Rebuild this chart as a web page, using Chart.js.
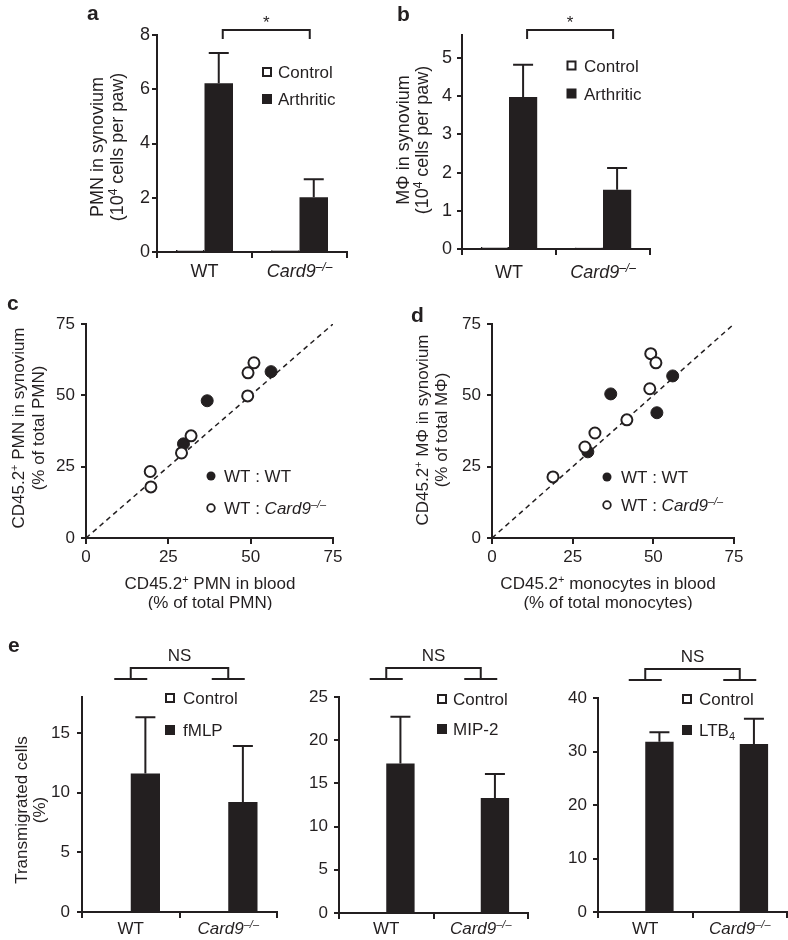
<!DOCTYPE html>
<html>
<head>
<meta charset="utf-8">
<title>Card9 - PMN and macrophage recruitment</title>
<script src="https://cdn.jsdelivr.net/npm/chart.js"></script>
<style>
  html, body { margin: 0; padding: 0; background: #fff; }
  #fig { position: relative; width: 788px; height: 940px; overflow: hidden; background: #fff; }
  #fig canvas { position: absolute; }
</style>
</head>
<body>
<div id="fig"></div>
<script>
  // ---- data ----
  const groups = ['WT', 'Card9'];

  // a: PMN in synovium (10^4 cells per paw)
  const pmnControl = [0.07, 0.06];
  const pmnArthritic = [6.22, 2.02];
  const pmnArthriticErr = [1.12, 0.66];
  const pmnTicks = [0, 2, 4, 6, 8];

  // b: macrophages in synovium (10^4 cells per paw)
  const mphControl = [0.05, 0.04];
  const mphArthritic = [3.98, 1.55];
  const mphArthriticErr = [0.84, 0.57];
  const mphTicks = [0, 1, 2, 3, 4, 5];

  // c: CD45.2+ PMN, blood (x) vs synovium (y)
  const pmnWtX = [36.8, 56.2, 29.6];
  const pmnWtY = [48.1, 58.3, 33.0];
  const pmnCard9X = [19.5, 19.7, 29.0, 31.9, 49.1, 49.2, 51.0];
  const pmnCard9Y = [23.3, 17.9, 29.8, 35.8, 49.8, 57.9, 61.4];

  // d: CD45.2+ monocytes in blood (x) vs macrophages in synovium (y)
  const monoWtX = [36.8, 56.0, 51.1, 29.7];
  const monoWtY = [50.5, 56.8, 43.9, 30.2];
  const monoCard9X = [18.9, 28.8, 31.9, 41.8, 48.9, 49.2, 50.8];
  const monoCard9Y = [21.4, 31.9, 36.8, 41.4, 52.3, 64.6, 61.4];

  const identityLine = [0, 75];
  const pctTicks = [0, 25, 50, 75];

  // e: transmigrated cells (%)
  const fmlpControl = [0, 0];
  const fmlp = [11.6, 9.2];
  const fmlpErr = [4.7, 4.7];
  const fmlpTicks = [0, 5, 10, 15];

  const mip2Control = [0, 0];
  const mip2 = [17.3, 13.3];
  const mip2Err = [5.4, 2.8];
  const mip2Ticks = [0, 5, 10, 15, 20, 25];

  const ltb4Control = [0, 0];
  const ltb4 = [31.8, 31.4];
  const ltb4Err = [1.8, 4.7];
  const ltb4Ticks = [0, 10, 20, 30, 40];

  // ---- look ----
  const INK = '#231f20';
  const FONT = "'Liberation Sans', Arial, Helvetica, sans-serif";
  const TXT = 17;
  Chart.defaults.font.family = FONT;
  Chart.defaults.font.size = TXT;
  Chart.defaults.color = INK;
  Chart.defaults.animation = false;

  const fig = document.getElementById('fig');

  // text pieces: {t, i: italic, sup, sub}
  const genotype = [{ t: 'Card9', i: true }, { t: '\u2013/\u2013', i: true, sup: true }];
  const groupLabels = [[{ t: 'WT' }], genotype];
  const cellsPerPaw = [{ t: '(10' }, { t: '4', sup: true }, { t: ' cells per paw)' }];
  const cd452 = [{ t: 'CD45.2' }, { t: '+', sup: true }];

  function font(size, italic, bold) {
    return (italic ? 'italic ' : '') + (bold ? 'bold ' : '') + size + 'px ' + FONT;
  }

  // y = visual middle of the capitals
  function drawRich(ctx, segs, x, y, size, align) {
    if (typeof segs === 'string') segs = [{ t: segs }];
    const parts = segs.map(p => {
      const s = (p.sup || p.sub) ? Math.round(size * 0.64) : size;
      ctx.font = font(s, p.i, p.b);
      return { p, s, w: ctx.measureText(p.t).width };
    });
    const total = parts.reduce((a, m) => a + m.w, 0);
    let cx = align === 'center' ? x - total / 2 : align === 'right' ? x - total : x;
    const base = y + size * 0.36;
    ctx.textAlign = 'left';
    ctx.textBaseline = 'alphabetic';
    parts.forEach(m => {
      ctx.font = font(m.s, m.p.i, m.p.b);
      const dy = m.p.sup ? -size * 0.38 : m.p.sub ? size * 0.22 : 0;
      ctx.fillText(m.p.t, cx, base + dy);
      cx += m.w;
    });
  }

  function drawRotated(ctx, segs, x, y, size) {
    ctx.save();
    ctx.translate(x, y);
    ctx.rotate(-Math.PI / 2);
    drawRich(ctx, segs, 0, 0, size, 'center');
    ctx.restore();
  }

  function panelLetter(ctx, letter, at) {
    ctx.font = font(21, false, true);
    ctx.textAlign = 'left';
    ctx.textBaseline = 'alphabetic';
    ctx.fillText(letter, at[0], at[1]);
  }

  function mount(box) {
    const c = document.createElement('canvas');
    c.width = box.w;
    c.height = box.h;
    c.style.left = box.x + 'px';
    c.style.top = box.y + 'px';
    fig.appendChild(c);
    return c;
  }

  // padding so that the chart area lands on the wanted rectangle (page coords)
  function padFor(box, area, yw, xh) {
    return {
      left: area.l - box.x - yw,
      top: area.t - box.y,
      right: box.x + box.w - area.r,
      bottom: box.y + box.h - area.b - xh
    };
  }

  const axisLine = () => ({ display: true, color: INK, width: 2 });
  const tickGrid = len => ({ display: true, drawOnChartArea: false, drawTicks: true, tickLength: len, color: INK, tickColor: INK, lineWidth: 2 });

  // decorations drawn in page coordinates
  function decor(box, fn) {
    return {
      id: 'decor',
      afterDraw(chart) {
        const ctx = chart.ctx;
        ctx.save();
        ctx.translate(-box.x, -box.y);
        ctx.fillStyle = INK;
        ctx.strokeStyle = INK;
        fn(chart, ctx);
        ctx.restore();
      }
    };
  }

  const errorBarPlugin = {
    id: 'errorBars',
    afterDatasetsDraw(chart) {
      const ctx = chart.ctx, ys = chart.scales.y;
      ctx.save();
      ctx.strokeStyle = INK;
      ctx.lineWidth = 2;
      chart.data.datasets.forEach((ds, di) => {
        if (!ds.errorBars) return;
        chart.getDatasetMeta(di).data.forEach((bar, i) => {
          const top = ys.getPixelForValue(ds.data[i] + ds.errorBars[i]);
          ctx.beginPath();
          ctx.moveTo(bar.x, bar.y);
          ctx.lineTo(bar.x, top);
          ctx.moveTo(bar.x - 10, top);
          ctx.lineTo(bar.x + 10, top);
          ctx.stroke();
        });
      });
      ctx.restore();
    }
  };

  function legendSquare(ctx, x, y, filled) {
    if (filled) {
      ctx.fillRect(x - 5, y - 5, 10, 10);
    } else {
      ctx.lineWidth = 2;
      ctx.strokeRect(x - 4, y - 4, 8, 8);
    }
  }

  function legendDot(ctx, x, y, filled) {
    ctx.beginPath();
    if (filled) {
      ctx.arc(x, y, 4.5, 0, Math.PI * 2);
      ctx.fill();
    } else {
      ctx.arc(x, y, 3.8, 0, Math.PI * 2);
      ctx.lineWidth = 1.8;
      ctx.stroke();
    }
  }

  function barPanel(p) {
    const yw = 60, xh = 24;
    const fs = p.fontSize || TXT;
    new Chart(mount(p.box), {
      type: 'bar',
      data: {
        labels: groups,
        datasets: [
          { label: 'Control', data: p.control, backgroundColor: '#fff', borderColor: INK, borderWidth: 1.5,
            categoryPercentage: 0.6, barPercentage: 1 },
          { label: p.stimName, data: p.stim, errorBars: p.err, backgroundColor: INK, borderWidth: 0,
            categoryPercentage: 0.6, barPercentage: 1 }
        ]
      },
      options: {
        responsive: false,
        layout: { padding: padFor(p.box, p.area, yw, xh) },
        plugins: { legend: { display: false }, tooltip: { enabled: false } },
        scales: {
          x: {
            offset: true,
            grid: Object.assign(tickGrid(6), { offset: true }),
            border: axisLine(),
            ticks: { display: false },
            afterFit: s => { s.height = xh; }
          },
          y: {
            min: 0, max: p.yMax,
            grid: tickGrid(5),
            border: axisLine(),
            ticks: { padding: p.tickPad, color: INK, font: { size: fs } },
            afterBuildTicks: s => { s.ticks = p.yTicks.map(v => ({ value: v })); },
            afterFit: s => { s.width = yw; }
          }
        }
      },
      plugins: [errorBarPlugin, decor(p.box, (chart, ctx) => {
        const xs = chart.scales.x, ca = chart.chartArea;
        const ox = p.box.x, oy = p.box.y;
        const top = ca.top + oy;
        panelLetter(ctx, p.letter, p.letterAt);
        p.yTitle.forEach((line, k) => drawRotated(ctx, line, p.yTitleX[k], p.yTitleY, fs));
        groupLabels.forEach((segs, i) => drawRich(ctx, segs, xs.getPixelForValue(i) + ox, p.labelY, fs, 'center'));

        // legend
        legendSquare(ctx, p.legend.x, p.legend.y[0], false);
        legendSquare(ctx, p.legend.x, p.legend.y[1], true);
        drawRich(ctx, 'Control', p.legend.tx, p.legend.y[0], TXT, 'left');
        drawRich(ctx, p.stimText, p.legend.tx, p.legend.y[1], TXT, 'left');

        ctx.lineWidth = 2;
        if (p.bracket === 'star') {
          const bars = chart.getDatasetMeta(1).data;
          const x1 = bars[0].x + ox + 4, x2 = bars[1].x + ox - 4;
          ctx.beginPath();
          ctx.moveTo(x1, top + 4); ctx.lineTo(x1, top - 5);
          ctx.lineTo(x2, top - 5); ctx.lineTo(x2, top + 4);
          ctx.stroke();
          drawRich(ctx, '*', (x1 + x2) / 2, top - 13, TXT, 'center');
        } else {
          const c0 = xs.getPixelForValue(0) + ox, c1 = xs.getPixelForValue(1) + ox;
          ctx.beginPath();
          [c0, c1].forEach(c => { ctx.moveTo(c - 16.5, top - 18); ctx.lineTo(c + 16.5, top - 18); });
          ctx.moveTo(c0, top - 18); ctx.lineTo(c0, top - 29);
          ctx.lineTo(c1, top - 29); ctx.lineTo(c1, top - 18);
          ctx.stroke();
          drawRich(ctx, 'NS', (c0 + c1) / 2, top - 42, TXT, 'center');
        }
      })]
    });
  }

  function scatterPanel(p) {
    const yw = 50, xh = 40;
    const pts = (xs, ys) => xs.map((x, i) => ({ x, y: ys[i] }));
    const pctAxis = (extra) => Object.assign({
      type: 'linear', min: 0, max: 75,
      border: axisLine(),
      afterBuildTicks: s => { s.ticks = pctTicks.map(v => ({ value: v })); }
    }, extra);
    new Chart(mount(p.box), {
      type: 'scatter',
      data: {
        datasets: [
          { label: 'WT : Card9', data: pts(p.openX, p.openY), pointRadius: 5.5,
            pointBackgroundColor: '#fff', pointBorderColor: INK, pointBorderWidth: 2 },
          { label: 'WT : WT', data: pts(p.fillX, p.fillY), pointRadius: 6,
            pointBackgroundColor: INK, pointBorderColor: INK, pointBorderWidth: 1 },
          { label: 'identity', data: identityLine.map(v => ({ x: v, y: v })), showLine: true,
            borderColor: INK, borderWidth: 1.5, borderDash: [5, 4], pointRadius: 0, fill: false }
        ]
      },
      options: {
        responsive: false,
        layout: { padding: padFor(p.box, p.area, yw, xh) },
        plugins: { legend: { display: false }, tooltip: { enabled: false } },
        scales: {
          x: pctAxis({ grid: tickGrid(6), ticks: { color: INK, font: { size: TXT }, padding: 3 },
                       afterFit: s => { s.height = xh; } }),
          y: pctAxis({ grid: tickGrid(5), ticks: { color: INK, font: { size: TXT }, padding: 6 },
                       afterFit: s => { s.width = yw; } })
        }
      },
      plugins: [decor(p.box, (chart, ctx) => {
        panelLetter(ctx, p.letter, p.letterAt);
        p.yTitle.forEach((line, k) => drawRotated(ctx, line, p.yTitleX[k], p.yTitleY, TXT));
        p.xTitle.forEach((line, k) => drawRich(ctx, line, p.xTitleX, p.xTitleY[k], TXT, 'center'));
        legendDot(ctx, p.legend.x, p.legend.y[0], true);
        legendDot(ctx, p.legend.x, p.legend.y[1], false);
        drawRich(ctx, 'WT : WT', p.legend.tx, p.legend.y[0], TXT, 'left');
        drawRich(ctx, [{ t: 'WT : ' }].concat(genotype), p.legend.tx, p.legend.y[1], TXT, 'left');
      })]
    });
  }

  // ---- panels ----
  barPanel({
    box: { x: 0, y: 0, w: 390, h: 290 }, area: { l: 157, t: 35, r: 347, b: 252 },
    letter: 'a', letterAt: [87, 20], fontSize: 18,
    control: pmnControl, stim: pmnArthritic, err: pmnArthriticErr, stimName: 'Arthritic', stimText: 'Arthritic',
    yMax: 8, yTicks: pmnTicks, tickPad: 2,
    yTitle: ['PMN in synovium', cellsPerPaw], yTitleX: [97, 117], yTitleY: 147,
    labelY: 271, legend: { x: 267, y: [72, 99], tx: 278 }, bracket: 'star'
  });

  barPanel({
    box: { x: 390, y: 0, w: 398, h: 290 }, area: { l: 462, t: 35, r: 650, b: 249 },
    letter: 'b', letterAt: [397, 21], fontSize: 18,
    control: mphControl, stim: mphArthritic, err: mphArthriticErr, stimName: 'Arthritic', stimText: 'Arthritic',
    yMax: 5.6, yTicks: mphTicks, tickPad: 5,
    yTitle: ['M\u03A6 in synovium', cellsPerPaw], yTitleX: [403, 422], yTitleY: 140,
    labelY: 272, legend: { x: 571.5, y: [65.5, 93.5], tx: 584 }, bracket: 'star'
  });

  scatterPanel({
    box: { x: 0, y: 290, w: 390, h: 320 }, area: { l: 86, t: 324, r: 333, b: 538 },
    letter: 'c', letterAt: [7, 310],
    fillX: pmnWtX, fillY: pmnWtY, openX: pmnCard9X, openY: pmnCard9Y,
    yTitle: [cd452.concat([{ t: ' PMN in synovium' }]), '(% of total PMN)'], yTitleX: [18, 38], yTitleY: 428,
    xTitle: [cd452.concat([{ t: ' PMN in blood' }]), '(% of total PMN)'], xTitleX: 210, xTitleY: [583, 602],
    legend: { x: 211, y: [476, 508], tx: 224 }
  });

  scatterPanel({
    box: { x: 390, y: 290, w: 398, h: 320 }, area: { l: 492, t: 324, r: 734, b: 538 },
    letter: 'd', letterAt: [411, 322],
    fillX: monoWtX, fillY: monoWtY, openX: monoCard9X, openY: monoCard9Y,
    yTitle: [cd452.concat([{ t: ' M\u03A6 in synovium' }]), '(% of total M\u03A6)'], yTitleX: [422, 441], yTitleY: 430,
    xTitle: [cd452.concat([{ t: ' monocytes in blood' }]), '(% of total monocytes)'], xTitleX: 608, xTitleY: [583, 602],
    legend: { x: 607, y: [477, 505], tx: 621 }
  });

  barPanel({
    box: { x: 0, y: 610, w: 285, h: 330 }, area: { l: 82, t: 697, r: 277, b: 912 },
    letter: 'e', letterAt: [8, 652],
    control: fmlpControl, stim: fmlp, err: fmlpErr, stimName: 'fMLP', stimText: 'fMLP',
    yMax: 18, yTicks: fmlpTicks, tickPad: 7,
    yTitle: ['Transmigrated cells', '(%)'], yTitleX: [21, 39], yTitleY: 810,
    labelY: 928, legend: { x: 170, y: [698, 730], tx: 183 }, bracket: 'ns'
  });

  barPanel({
    box: { x: 285, y: 610, w: 255, h: 330 }, area: { l: 339, t: 697, r: 528, b: 913 },
    letter: '', letterAt: [0, 0],
    control: mip2Control, stim: mip2, err: mip2Err, stimName: 'MIP-2', stimText: 'MIP-2',
    yMax: 25, yTicks: mip2Ticks, tickPad: 6,
    yTitle: [], yTitleX: [], yTitleY: 0,
    labelY: 928, legend: { x: 442, y: [699, 729], tx: 453 }, bracket: 'ns'
  });

  barPanel({
    box: { x: 540, y: 610, w: 248, h: 330 }, area: { l: 598, t: 698, r: 787, b: 912 },
    letter: '', letterAt: [0, 0],
    control: ltb4Control, stim: ltb4, err: ltb4Err, stimName: 'LTB4', stimText: [{ t: 'LTB' }, { t: '4', sub: true }],
    yMax: 40, yTicks: ltb4Ticks, tickPad: 6,
    yTitle: [], yTitleX: [], yTitleY: 0,
    labelY: 928, legend: { x: 687, y: [699, 730], tx: 699 }, bracket: 'ns'
  });
</script>
</body>
</html>
